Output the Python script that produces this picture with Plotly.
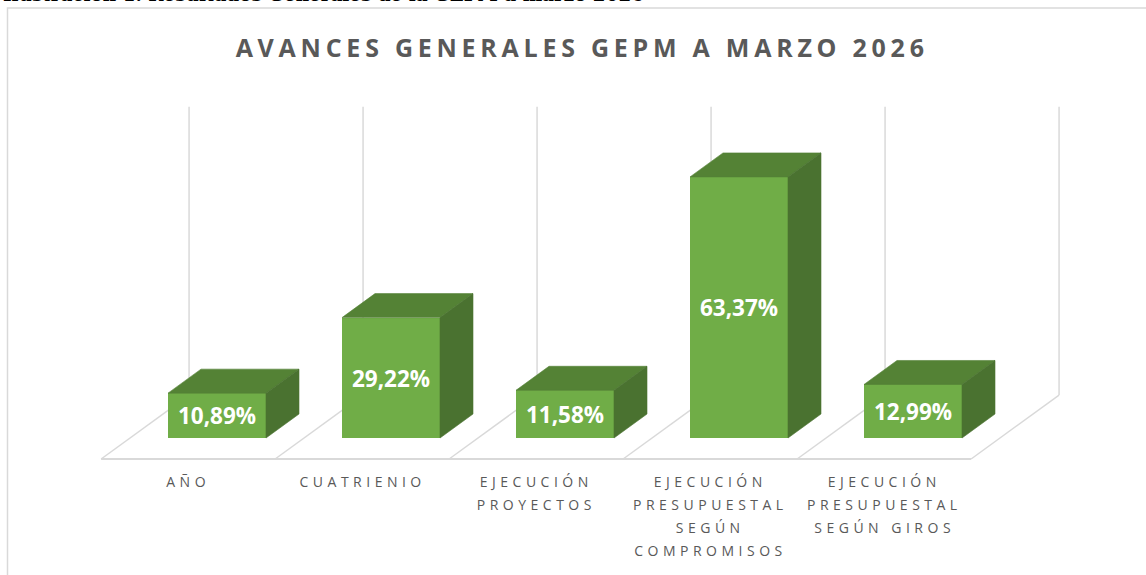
import plotly.graph_objects as go

# ---------------- data ----------------
categories = [
    "AÑO",
    "CUATRIENIO",
    "EJECUCIÓN PROYECTOS",
    "EJECUCIÓN PRESUPUESTAL SEGÚN COMPROMISOS",
    "EJECUCIÓN PRESUPUESTAL SEGÚN GIROS",
]
category_lines = [
    ["AÑO"],
    ["CUATRIENIO"],
    ["EJECUCIÓN", "PROYECTOS"],
    ["EJECUCIÓN", "PRESUPUESTAL", "SEGÚN", "COMPROMISOS"],
    ["EJECUCIÓN", "PRESUPUESTAL", "SEGÚN GIROS"],
]
values = [10.89, 29.22, 11.58, 63.37, 12.99]
value_labels = [f"{v:.2f}".replace(".", ",") + "%" for v in values]
title_text = "AVANCES GENERALES GEPM A MARZO 2026"
caption_text = "Ilustración 1. Resultados Generales de la GEPM a marzo 2026"
y_max = 70

# ---------------- styling / geometry ----------------
W, H = 1146, 575
PX_X = 174.0          # pixels per category
PX_Y = 4.12           # pixels per percent
X0_PX = 217.0         # pixel of first category centre (front face)
BASE_PX = 438.0       # pixel row of value 0 (front face)
BAR_W = 98 / PX_X
DX = 33 / PX_X        # oblique depth shift (x) per bar depth
DY = 24 / PX_Y        # oblique depth shift (y) per bar depth
Z_FRONT = -0.875      # floor front edge, in bar-depth units
Z_BACK = 1.79         # floor back edge / back wall

FRONT = "#70AD47"
TOP = "#548235"
SIDE = "#4A7230"
GRID = "#D9D9D9"
TXT = "#595959"

x_range = [-X0_PX / PX_X, (W - X0_PX) / PX_X]
y_range = [-(H - BASE_PX) / PX_Y, BASE_PX / PX_Y]


def proj(x, y, z):
    return x + z * DX, y + z * DY


xs = list(range(len(values)))
fig = go.Figure()

# front faces
fig.add_trace(go.Bar(
    x=xs, y=values, width=BAR_W,
    marker=dict(color=FRONT, line=dict(width=0)),
    text=value_labels, textposition="inside", insidetextanchor="middle",
    textfont=dict(family="Open Sans", size=22.5, color="white", weight="bold"),
    constraintext="none", hoverinfo="skip", showlegend=False,
))

# top and side faces
top_x, top_y, side_x, side_y = [], [], [], []
for c, v in zip(xs, values):
    l, r = c - BAR_W / 2, c + BAR_W / 2
    pts = [proj(l, v, 0), proj(r, v, 0), proj(r, v, 1), proj(l, v, 1), proj(l, v, 0)]
    top_x += [p[0] for p in pts] + [None]
    top_y += [p[1] for p in pts] + [None]
    pts = [proj(r, 0, 0), proj(r, v, 0), proj(r, v, 1), proj(r, 0, 1), proj(r, 0, 0)]
    side_x += [p[0] for p in pts] + [None]
    side_y += [p[1] for p in pts] + [None]

fig.add_trace(go.Scatter(x=top_x, y=top_y, mode="lines", fill="toself",
                         fillcolor=TOP, line=dict(color=TOP, width=0.6),
                         hoverinfo="skip", showlegend=False))
fig.add_trace(go.Scatter(x=side_x, y=side_y, mode="lines", fill="toself",
                         fillcolor=SIDE, line=dict(color=SIDE, width=0.6),
                         hoverinfo="skip", showlegend=False))

# floor + back wall lines (below traces)
shapes = []
n = len(values)
a = proj(-0.5, 0, Z_FRONT)
b = proj(n - 0.5, 0, Z_FRONT)
shapes.append(dict(type="line", xref="x", yref="y", x0=a[0], y0=a[1], x1=b[0], y1=b[1],
                   line=dict(color=GRID, width=2), layer="below"))
for i in range(n + 1):
    xb = i - 0.5
    p0 = proj(xb, 0, Z_FRONT)
    p1 = proj(xb, 0, Z_BACK)
    p2 = proj(xb, y_max, Z_BACK)
    shapes.append(dict(type="line", xref="x", yref="y", x0=p0[0], y0=p0[1], x1=p1[0], y1=p1[1],
                       line=dict(color=GRID, width=1.5), layer="below"))
    shapes.append(dict(type="line", xref="x", yref="y", x0=p1[0], y0=p1[1], x1=p2[0], y1=p2[1],
                       line=dict(color=GRID, width=1.5), layer="below"))

# chart frame
shapes.append(dict(type="rect", xref="paper", yref="paper",
                   x0=7.5 / W, x1=1.05, y0=-0.05, y1=1 - 8 / H,
                   line=dict(color=GRID, width=1.5), fillcolor="rgba(0,0,0,0)", layer="below"))

annotations = []
for i, lines in enumerate(category_lines):
    lx, _ = proj(i, 0, Z_FRONT)
    for k, line in enumerate(lines):
        annotations.append(dict(
            x=lx, y=0, xref="x", yref="y", text=line, showarrow=False,
            xanchor="center", yanchor="middle", yshift=-(43 + 23 * k),
            font=dict(family="Open Sans", size=14, color=TXT),
        ))

annotations.append(dict(
    x=1 / W, y=1 + 5.5 / H, xref="paper", yref="paper", text=caption_text,
    showarrow=False, xanchor="left", yanchor="middle",
    font=dict(family="DejaVu Serif", size=18.4, color="#000000", weight="bold"),
))

fig.update_layout(
    width=W, height=H, autosize=False,
    margin=dict(l=0, r=0, t=0, b=0),
    paper_bgcolor="white", plot_bgcolor="white",
    title=dict(text=title_text, x=0.508, y=1 - 48 / H, xanchor="center", yanchor="middle",
               font=dict(family="Open Sans", size=25, color=TXT, weight="bold")),
    xaxis=dict(range=x_range, visible=False, fixedrange=True),
    yaxis=dict(range=y_range, visible=False, fixedrange=True),
    shapes=shapes, annotations=annotations,
    bargap=0, showlegend=False,
)

post_js = """
document.body.style.margin = '0';
var gd = document.getElementById('{plot_id}');
function spacing() {
  gd.querySelectorAll('.gtitle').forEach(function (t) { t.style.letterSpacing = '4.75px'; });
  gd.querySelectorAll('.annotation-text').forEach(function (t) {
    if (t.textContent.indexOf('Ilustraci') < 0) { t.style.letterSpacing = '4.5px'; }
  });
}
spacing();
gd.on('plotly_afterplot', spacing);
"""

fig.write_html("out.html", post_script=post_js, config={"displayModeBar": False})
